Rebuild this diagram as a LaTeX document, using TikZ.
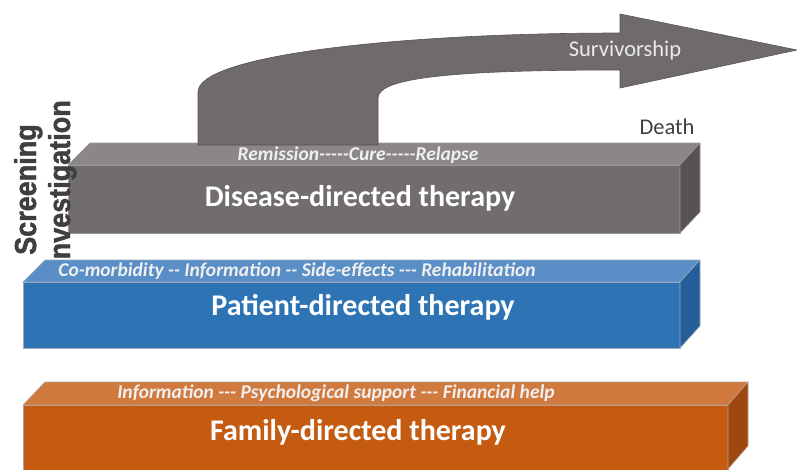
\documentclass[tikz,border=0pt]{standalone}
\usepackage{fontspec}
\setmainfont{Carlito}
\newfontfamily\stagefont{Liberation Sans}[BoldFeatures={FakeBold=1.6}]
\definecolor{greyfront}{HTML}{716D6C}
\definecolor{greytop}{HTML}{8B8786}
\definecolor{greyside}{HTML}{575352}
\definecolor{greyline}{HTML}{9A9695}
\definecolor{bluefront}{HTML}{2E74B5}
\definecolor{bluetop}{HTML}{5A8EC6}
\definecolor{blueside}{HTML}{245E98}
\definecolor{blueline}{HTML}{9AA9BC}
\definecolor{orfront}{HTML}{C55A11}
\definecolor{ortop}{HTML}{D17A3F}
\definecolor{orside}{HTML}{9E4810}
\definecolor{orline}{HTML}{B9A090}
\definecolor{arrowfill}{HTML}{6F6B6A}
\definecolor{arrowline}{HTML}{575352}
\definecolor{darktext}{HTML}{3F3F3F}
\begin{document}
\begin{tikzpicture}[x=1pt,y=-1pt,
  face/.style={line width=0.6pt, line join=round},
  title/.style={text=white, font=\fontsize{30}{34}\selectfont\bfseries, inner sep=0pt},
  stages/.style={text=white!94!black, font=\fontsize{19.5}{22}\selectfont\bfseries\itshape, inner sep=0pt},
  plain/.style={font=\fontsize{22.5}{26}\selectfont, inner sep=0pt},
  side/.style={rotate=90, text=darktext, font=\stagefont\fontsize{27}{30}\selectfont\bfseries, inner sep=0pt, anchor=base west}]
\useasboundingbox (0,0) rectangle (797,469);

% disease-directed block
\fill[greyfront, draw=greyline, face] (68,165) rectangle (680,233);
\fill[greytop, draw=greyline, face] (68,165) -- (90,143) -- (700,143) -- (680,165) -- cycle;
\fill[greyside, draw=greyline, face] (680,165) -- (700,143) -- (700,212) -- (680,233) -- cycle;

% bent arrow rising from the disease block
\fill[arrowfill, draw=arrowline, line width=0.6pt, line join=round]
  (198,145) -- (198,92)
  .. controls (198,55) and (400,33) .. (620,33)
  -- (620,14) -- (797,50) -- (620,88) -- (620,70)
  .. controls (450,70) and (378,78) .. (378,98)
  -- (378,145) -- cycle;

\node[plain, text=white!92!black] (surv) at (625,50) {Survivorship};
\node[plain, text=darktext] (death) at (667,127) {Death};
\node[stages] (dstages) at (358,155) {Remission-{}-{}-{}-{}-Cure-{}-{}-{}-{}-Relapse};
\node[title] (disease) at (360,198) {Disease-directed therapy};

% vertical stage labels
\node[side] (screen) at (36,255) {\scalebox{1}[1.12]{Screening}};
\node[side] (invest) at (70,267) {\scalebox{1}[1.12]{Investigation}};

% patient-directed block
\fill[bluefront, draw=blueline, face] (23,282) rectangle (680,348);
\fill[bluetop, draw=blueline, face] (23,282) -- (45,260) -- (700,260) -- (680,282) -- cycle;
\fill[blueside, draw=blueline, face] (680,282) -- (700,260) -- (700,326) -- (680,348) -- cycle;
\node[stages] (pstages) at (297,271) {Co-morbidity -{}- Information -{}- Side-effects -{}-{}- Rehabilitation};
\node[title] (patient) at (363,307) {Patient-directed therapy};

% family-directed block
\fill[orfront, draw=orline, face] (23,405) rectangle (728,472);
\fill[ortop, draw=orline, face] (23,405) -- (45,382) -- (748,382) -- (728,405) -- cycle;
\fill[orside, draw=orline, face] (728,405) -- (748,382) -- (748,446) -- (728,469) -- cycle;
\node[stages] (fstages) at (336,393) {Information -{}-{}- Psychological support -{}-{}- Financial help};
\node[title] (family) at (358,432) {Family-directed therapy};
\end{tikzpicture}
\end{document}
